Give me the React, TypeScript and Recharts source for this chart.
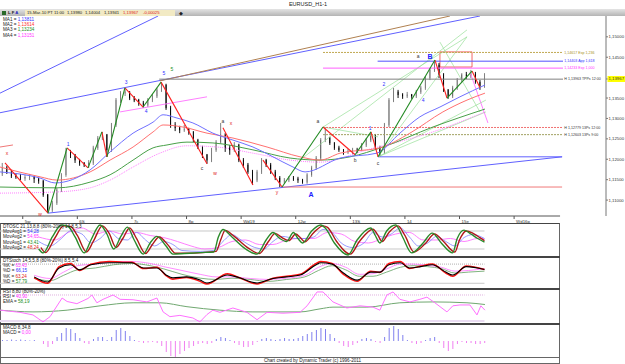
import React from "react"
import { ComposedChart, Bar, Line, XAxis, YAxis, ReferenceLine, ReferenceArea, Scatter, Cell } from "recharts"

const FONT = "'Liberation Sans', Arial, sans-serif"

// EURUSD, candles of 2 hours: [open, high, low, close]
const candles = [
  [1.1164, 1.1191, 1.1159, 1.1179], [1.1179, 1.1184, 1.1164, 1.1169], [1.1169, 1.1174, 1.1154, 1.1159],
  [1.1159, 1.1166, 1.1152, 1.1157], [1.1157, 1.1164, 1.1149, 1.1154], [1.1154, 1.1162, 1.1147, 1.1155],
  [1.1155, 1.1164, 1.1149, 1.1157], [1.1157, 1.1159, 1.1142, 1.1152], [1.1152, 1.1154, 1.114, 1.1147],
  [1.1147, 1.1149, 1.1108, 1.1113], [1.1113, 1.1115, 1.1068, 1.1076], [1.1076, 1.1098, 1.1071, 1.1093],
  [1.1093, 1.113, 1.1088, 1.1125], [1.1125, 1.1166, 1.112, 1.1162], [1.1162, 1.1228, 1.1157, 1.1218],
  [1.1218, 1.1223, 1.1203, 1.1211], [1.1211, 1.1213, 1.1191, 1.1198], [1.1198, 1.1201, 1.1184, 1.1191],
  [1.1191, 1.1193, 1.1181, 1.1186], [1.1186, 1.1198, 1.1179, 1.1191], [1.1191, 1.1233, 1.1186, 1.1228],
  [1.1228, 1.1257, 1.1223, 1.1252], [1.1252, 1.1267, 1.1247, 1.126], [1.126, 1.1262, 1.1206, 1.1223],
  [1.1223, 1.1289, 1.1218, 1.1284], [1.1284, 1.135, 1.1279, 1.1345], [1.1345, 1.1367, 1.1338, 1.1362],
  [1.1362, 1.1375, 1.1355, 1.1365], [1.1365, 1.1367, 1.1345, 1.135], [1.135, 1.1355, 1.134, 1.1345],
  [1.1345, 1.1348, 1.1331, 1.1338], [1.1338, 1.1343, 1.1326, 1.1333], [1.1333, 1.135, 1.1328, 1.1345],
  [1.1345, 1.136, 1.134, 1.1355], [1.1355, 1.1375, 1.135, 1.137], [1.137, 1.1389, 1.1365, 1.1382],
  [1.1382, 1.1385, 1.1321, 1.1326], [1.1326, 1.1331, 1.1277, 1.1284], [1.1284, 1.1291, 1.1269, 1.1277],
  [1.1277, 1.1282, 1.1264, 1.1272], [1.1272, 1.1284, 1.1267, 1.1274], [1.1274, 1.1277, 1.126, 1.1267],
  [1.1267, 1.1269, 1.1242, 1.1247], [1.1247, 1.125, 1.1225, 1.123], [1.123, 1.1233, 1.1203, 1.1211],
  [1.1211, 1.1213, 1.1189, 1.1198], [1.1198, 1.1228, 1.1193, 1.1223], [1.1223, 1.1247, 1.1218, 1.1242],
  [1.1242, 1.1289, 1.1238, 1.126], [1.126, 1.1264, 1.1218, 1.1228], [1.1228, 1.1235, 1.1211, 1.1223],
  [1.1223, 1.1242, 1.1218, 1.1235], [1.1235, 1.1238, 1.1193, 1.1198], [1.1198, 1.1203, 1.1179, 1.1186],
  [1.1186, 1.1191, 1.1164, 1.1169], [1.1169, 1.1174, 1.1137, 1.1149], [1.1149, 1.1174, 1.1144, 1.1169],
  [1.1169, 1.1203, 1.1164, 1.1198], [1.1198, 1.1201, 1.1181, 1.1186], [1.1186, 1.1191, 1.1164, 1.1169],
  [1.1169, 1.1174, 1.1149, 1.1154], [1.1154, 1.1159, 1.1132, 1.1144], [1.1144, 1.1154, 1.114, 1.1149],
  [1.1149, 1.1159, 1.1144, 1.1154], [1.1154, 1.1159, 1.1147, 1.1152], [1.1152, 1.1157, 1.1142, 1.1149],
  [1.1149, 1.1152, 1.114, 1.1144], [1.1144, 1.1166, 1.114, 1.1162], [1.1162, 1.1184, 1.1157, 1.1179],
  [1.1179, 1.1208, 1.1174, 1.1203], [1.1203, 1.1252, 1.1198, 1.1247], [1.1247, 1.1279, 1.1242, 1.1252],
  [1.1252, 1.1255, 1.1235, 1.124], [1.124, 1.1242, 1.1223, 1.1228], [1.1228, 1.1233, 1.1218, 1.1223],
  [1.1223, 1.1225, 1.1211, 1.1218], [1.1218, 1.1225, 1.1213, 1.122], [1.122, 1.1228, 1.1213, 1.1223],
  [1.1223, 1.1228, 1.1215, 1.1221], [1.1221, 1.124, 1.122, 1.1235], [1.1235, 1.1252, 1.123, 1.1247],
  [1.1247, 1.1267, 1.1242, 1.126], [1.126, 1.1262, 1.1223, 1.1228], [1.1228, 1.1233, 1.1206, 1.1218],
  [1.1218, 1.1289, 1.1213, 1.1284], [1.1284, 1.135, 1.1279, 1.1345], [1.1345, 1.1375, 1.134, 1.1365],
  [1.1365, 1.137, 1.135, 1.1358], [1.1358, 1.1362, 1.1348, 1.1355], [1.1355, 1.1365, 1.135, 1.1358],
  [1.1358, 1.136, 1.1348, 1.1355], [1.1355, 1.137, 1.135, 1.1365], [1.1365, 1.138, 1.136, 1.1375],
  [1.1375, 1.1404, 1.137, 1.1399], [1.1399, 1.1424, 1.1394, 1.1419], [1.1419, 1.1443, 1.1414, 1.1431],
  [1.1431, 1.1436, 1.1399, 1.1407], [1.1407, 1.1411, 1.1365, 1.137], [1.137, 1.1372, 1.1348, 1.1355],
  [1.1355, 1.138, 1.135, 1.1375], [1.1375, 1.1399, 1.137, 1.1394], [1.1394, 1.1411, 1.1389, 1.1407],
  [1.1407, 1.1414, 1.1397, 1.1404], [1.1404, 1.1419, 1.1399, 1.1409], [1.1409, 1.1414, 1.1385, 1.1389],
  [1.1389, 1.1394, 1.137, 1.138], [1.138, 1.1411, 1.1375, 1.1397],
]

const LAST = 1.13967
const priceTicks = [1.11, 1.115, 1.12, 1.125, 1.13, 1.135, LAST, 1.145, 1.15]
const dayTicks = [10, 34, 58, 82, 106, 130, 154, 178, 202, 226]
const dayLabels = ["5w", "6S", "7c", "8p", "Wd19", "12w", "13S", "14", "15e", "Wd16p"]

// moving averages, [hour, price]
const ma1 = [[0, 1.1169], [17.6, 1.1154], [24.2, 1.1142], [39.6, 1.1174], [48.4, 1.1218], [58.5, 1.1264], [67.3, 1.1291], [71.7, 1.1309], [77.8, 1.1301], [84.8, 1.1289], [93.6, 1.1264], [102.4, 1.1247], [111.2, 1.123], [120, 1.1206], [128.8, 1.1181], [134.1, 1.1169], [149.5, 1.1203], [165.7, 1.1215], [175.8, 1.1264], [184.6, 1.1304], [193.4, 1.1328], [202.2, 1.1353], [213.2, 1.1382]]
const ma2 = [[0, 1.1181], [17.6, 1.1157], [25.1, 1.1149], [39.6, 1.1169], [48.4, 1.1198], [58.5, 1.123], [67.3, 1.1267], [71.7, 1.1284], [80.4, 1.1279], [91, 1.1264], [102.4, 1.1252], [117.4, 1.123], [131.9, 1.1206], [140.7, 1.1198], [149.5, 1.1215], [167, 1.1228], [180.2, 1.1264], [194.7, 1.1316], [205.3, 1.1345], [213.2, 1.1362]]
const ma3 = [[0, 1.1132], [25.1, 1.113], [39.6, 1.1144], [48.4, 1.1162], [58.5, 1.1198], [67.3, 1.1228], [73.4, 1.1235], [82.2, 1.1242], [93.6, 1.124], [111.2, 1.1223], [127.5, 1.1203], [140.7, 1.1198], [153.9, 1.1206], [168.4, 1.123], [190.3, 1.1279], [213.2, 1.1323]]
const ma4 = [[0, 1.1117], [25.1, 1.112], [39.6, 1.113], [48.4, 1.1149], [58.5, 1.1181], [70.3, 1.1215], [82.2, 1.1233], [95.4, 1.123], [111.2, 1.1215], [127.5, 1.1198], [140.7, 1.1193], [161.3, 1.1223], [190.3, 1.1267], [213.2, 1.1316]]

// drawn lines on the price chart: [hour1, price1, hour2, price2]
const blueLines = [[0, 1.1362, 69.5, 1.1551], [0, 1.1314, 211, 1.1551], [21.1, 1.1068, 247.1, 1.1206], [166.2, 1.1206, 247.1, 1.1206]]
const brownLines = [[70.3, 1.1392, 197.8, 1.1551]]
const salmonLines = [[124.4, 1.1132, 247.1, 1.1132], [0, 1.123, 5.7, 1.1235]]
const pinkLines = [[52.8, 1.1316, 91, 1.1353], [206.6, 1.1414, 214.5, 1.1289]]
const fanLines = [[142, 1.1279, 205.3, 1.15], [166.2, 1.1206, 205.3, 1.15], [166.2, 1.1206, 213.6, 1.1345], [166.2, 1.1206, 213.6, 1.1316], [193.4, 1.1487, 211, 1.1316], [142, 1.1279, 166.2, 1.1255], [131.9, 1.1198, 205.3, 1.1517]]
const redSwings = [[2.2, 1.1191, 21.1, 1.1068], [29.5, 1.1228, 38.7, 1.1179], [44.8, 1.1267, 47, 1.1206], [54.9, 1.1375, 62.9, 1.1328], [70.8, 1.1389, 91, 1.1189], [98, 1.1277, 111.2, 1.1137], [115.6, 1.1198, 124, 1.1132], [142, 1.1279, 156.1, 1.1211], [163.1, 1.1267, 166.2, 1.1206], [191.2, 1.1443, 196.5, 1.135], [207.5, 1.1416, 211, 1.1375]]
const greenSwings = [[21.1, 1.1068, 29.5, 1.1228], [38.7, 1.1179, 44.8, 1.1267], [47, 1.1206, 54.9, 1.1375], [62.9, 1.1328, 70.8, 1.1389], [124, 1.1132, 142, 1.1279], [156.1, 1.1211, 163.1, 1.1267], [166.2, 1.1206, 191.2, 1.1443], [196.5, 1.135, 207.5, 1.1416]]
const targetBox = [193.4, 207.5, 1.1426, 1.1463]

// price levels on the right: start hour, price, text
const levels = [
  { from: 142, p: 1.14617, text: "1,14617 Exp 1,236" },
  { from: 166, p: 1.14403, text: "1,14403 App 1,618" },
  { from: 142, p: 1.14233, text: "1,14233 Exp 1,000" },
  { from: 70, p: 1.13963, text: "H 1,13963 TPPs 12:00" },
  { from: 142, p: 1.12779, text: "H 1,12779 13Ps 12:00" },
  { from: 142, p: 1.12603, text: "H 1,12603 13Ps 9:00" },
]
const LEVEL_END = 247.5
const levelStyles = [
  { stroke: "#c0a850", dash: "2 1", color: "#a89020" },
  { stroke: "#5050ff", dash: undefined, color: "#3030ff" },
  { stroke: "#ff60ff", dash: undefined, color: "#ff30ff" },
  { stroke: "#808080", dash: undefined, color: "#333" },
  { stroke: "#f07070", dash: "2 1", color: "#333" },
  { stroke: "#a0a060", dash: "2 1", color: "#333" },
]

// wave counts
const waveTags = [
  { t: 3.1, p: 1.1215, text: "x", kind: "red" }, { t: 17.6, p: 1.1066, text: "w", kind: "red" },
  { t: 29.9, p: 1.1238, text: "1", kind: "blue" }, { t: 55.4, p: 1.1389, text: "3", kind: "blue" },
  { t: 64.2, p: 1.1318, text: "4", kind: "blue" }, { t: 72.1, p: 1.1411, text: "5", kind: "blue" },
  { t: 75.6, p: 1.1421, text: "5", kind: "green" }, { t: 88.8, p: 1.1179, text: "c", kind: "dark" },
  { t: 94.5, p: 1.1166, text: "w", kind: "red" }, { t: 98, p: 1.1294, text: "a", kind: "dark" },
  { t: 101.5, p: 1.1289, text: "x", kind: "red" }, { t: 121.8, p: 1.112, text: "y", kind: "red" },
  { t: 136.7, p: 1.1113, text: "A", kind: "big" }, { t: 139.8, p: 1.1294, text: "a", kind: "dark" },
  { t: 156.1, p: 1.1198, text: "b", kind: "dark" }, { t: 162.7, p: 1.1277, text: "1", kind: "blue" },
  { t: 166.2, p: 1.1191, text: "c", kind: "dark" }, { t: 168.8, p: 1.1385, text: "2", kind: "blue" },
  { t: 186, p: 1.1345, text: "4", kind: "blue" }, { t: 183.8, p: 1.1453, text: "a", kind: "dark" },
  { t: 189, p: 1.1451, text: "B", kind: "big" },
]
const tagStyles: Record<string, { fill: string; size: number; weight: number }> = {
  red: { fill: "#e02020", size: 5, weight: 400 },
  blue: { fill: "#3030ff", size: 5, weight: 400 },
  green: { fill: "#209020", size: 5, weight: 400 },
  dark: { fill: "#333", size: 5, weight: 400 },
  big: { fill: "#2020ff", size: 7, weight: 700 },
}

// DTOSC, [hour, value]
const oscFast1 = [[17, 20], [19, 7], [23, 60], [27, 100], [30, 95], [33, 60], [37, 7], [40, 50], [44, 100], [47, 70], [50, 20], [53, 60], [56, 93], [59, 50], [63, 3], [66, 40], [69, 62], [73, 30], [76, 3], [81, 5], [88, 8], [94, 10], [96, 60], [98, 85], [102, 60], [108, 20], [113, 3], [117, 50], [120, 75], [123, 55], [126, 45], [129, 75], [131, 55], [133, 40], [137, 80], [141, 100], [143, 90], [147, 40], [153, 0], [157, 50], [163, 90], [165, 65], [167, 40], [170, 80], [174, 100], [177, 60], [181, 7], [186, 40], [190, 73], [194, 40], [199, 7], [201, 55], [204, 83], [207, 70], [210, 55], [213, 43]]
const oscFast2 = [[18, 25], [20, 8], [24, 55], [28, 97], [31, 95], [34, 65], [38, 10], [41, 45], [45, 97], [48, 72], [51, 25], [54, 55], [57, 90], [60, 55], [64, 5], [67, 35], [70, 60], [74, 32], [77, 6], [82, 6], [89, 8], [95, 12], [97, 50], [99, 82], [103, 62], [109, 24], [114, 5], [118, 45], [121, 72], [124, 58], [127, 48], [130, 70], [132, 58], [134, 44], [138, 75], [142, 97], [144, 92], [148, 45], [154, 3], [158, 45], [164, 86], [166, 68], [168, 45], [171, 75], [175, 97], [178, 65], [182, 10], [187, 38], [191, 70], [195, 45], [200, 10], [202, 50], [205, 80], [208, 72], [211, 58], [213, 48]]
const oscSlow1 = [[17, 45], [22, 30], [27, 55], [31, 80], [36, 70], [40, 40], [44, 55], [48, 80], [52, 55], [56, 50], [60, 75], [64, 50], [68, 30], [72, 45], [76, 35], [80, 15], [88, 12], [94, 15], [98, 45], [102, 68], [106, 50], [112, 25], [116, 20], [120, 45], [124, 62], [130, 55], [134, 55], [138, 60], [142, 85], [146, 75], [150, 40], [155, 25], [160, 40], [164, 75], [168, 60], [172, 70], [176, 90], [180, 60], [184, 30], [188, 40], [192, 62], [196, 45], [200, 30], [204, 58], [208, 68], [213, 55]]
const oscSlow2 = [[17, 60], [24, 50], [30, 75], [36, 90], [42, 70], [48, 80], [54, 70], [60, 75], [66, 65], [72, 58], [78, 45], [84, 30], [90, 20], [96, 25], [102, 45], [108, 50], [114, 35], [120, 35], [126, 50], [132, 55], [138, 55], [144, 75], [150, 70], [156, 45], [162, 40], [168, 55], [174, 70], [180, 75], [186, 50], [192, 50], [198, 55], [204, 45], [210, 55], [213, 54]]

// DTStoch
const stochK1 = [[15, 40], [21, 24], [26, 68], [31, 78], [35, 62], [40, 78], [48, 84], [54, 84], [58, 84], [63, 68], [69, 68], [73, 46], [76, 37], [82, 40], [88, 30], [91, 21], [100, 46], [105, 38], [113, 21], [120, 35], [126, 40], [132, 46], [139, 78], [141, 84], [146, 80], [151, 52], [157, 30], [163, 55], [167, 55], [171, 78], [176, 84], [180, 68], [185, 72], [190, 78], [196, 55], [199, 46], [205, 72], [213, 63]]
const stochK2 = [[15, 38], [21, 20], [26, 72], [31, 82], [35, 60], [40, 80], [48, 88], [54, 86], [58, 86], [63, 66], [69, 70], [73, 44], [76, 33], [82, 38], [88, 26], [91, 18], [100, 50], [105, 38], [113, 18], [120, 36], [126, 42], [132, 48], [139, 82], [141, 88], [146, 82], [151, 48], [157, 26], [163, 58], [167, 54], [171, 82], [176, 88], [180, 66], [185, 74], [190, 80], [196, 52], [199, 42], [205, 74], [213, 63]]
const stochD1 = [[15, 45], [22, 35], [28, 55], [34, 75], [42, 80], [50, 88], [58, 88], [66, 82], [72, 72], [80, 60], [88, 48], [95, 40], [102, 40], [110, 35], [118, 32], [126, 36], [134, 45], [140, 70], [146, 82], [152, 70], [158, 48], [164, 50], [170, 65], [176, 80], [182, 80], [188, 76], [194, 70], [200, 58], [206, 60], [213, 66]]
const stochD2 = [[15, 35], [22, 28], [28, 45], [34, 62], [42, 68], [50, 78], [58, 82], [66, 75], [72, 65], [80, 48], [88, 36], [95, 32], [102, 36], [110, 32], [118, 26], [126, 32], [134, 40], [140, 60], [146, 75], [152, 62], [158, 42], [164, 42], [170, 55], [176, 70], [182, 75], [188, 72], [194, 66], [200, 52], [206, 55], [213, 58]]

// RSI and its EMA
const rsi = [[0, 45], [8.8, 40], [14.5, 34], [18.9, 18], [22, 30], [27.3, 73], [29.5, 65], [33.8, 60], [38.7, 72], [40.4, 80], [42.6, 62], [45.3, 70], [49.7, 80], [52.8, 70], [58.5, 69], [64.6, 64], [69, 73], [71.7, 41], [74.7, 30], [79.1, 33], [84.8, 27], [87.9, 18], [91, 35], [93.6, 45], [96.7, 40], [102.4, 50], [108.6, 40], [113, 23], [117.4, 40], [124.4, 38], [131.9, 40], [135, 55], [139.4, 87], [142, 87], [146.4, 64], [152.5, 50], [158.3, 55], [164, 52], [167, 45], [170.1, 80], [172.8, 87], [175.8, 70], [180.2, 64], [184.6, 70], [187.7, 75], [191.2, 62], [196.5, 41], [199.1, 55], [202.2, 57], [206.6, 57], [209.7, 34], [211.4, 55], [213.2, 45]]
const rsiEma = [[0, 45], [14.5, 41], [29.5, 45], [44, 55], [58.5, 62], [70.3, 62], [82.2, 53], [96.7, 45], [111.2, 41], [131.9, 41], [140.7, 48], [146.4, 52], [161.3, 52], [175.8, 62], [190.3, 64], [205.3, 62], [213.2, 58]]

// MACD histogram, one value per candle
const macd = [
  0.0002, 0.0002, 0.0003, 0.0002, 0.0003, 0.0002, 0.0001, 0.0002, 0, -0.0006,
  -0.0012, -0.0006, 0.0008, 0.0016, 0.0026, 0.0024, 0.0016, 0.0006, -0.0004, -0.0006,
  0.0004, 0.0008, 0.0008, 0.0002, 0.0008, 0.0022, 0.0026, 0.002, 0.001, 0.0002,
  -0.0002, -0.0004, -0.0003, -0.0002, -0.0004, -0.001, -0.0022, -0.003, -0.0032, -0.0026,
  -0.002, -0.0014, -0.001, -0.0006, -0.0004, -0.0006, -0.0004, 0.0004, 0.0008, 0.0006,
  0.0002, -0.0004, -0.0008, -0.0012, -0.0012, -0.0008, -0.0002, 0.0004, 0.0006, 0.0004,
  0.0002, 0.0004, 0.0006, 0.0004, 0.0004, 0.0006, 0.001, 0.0014, 0.0018, 0.0022,
  0.0026, 0.0024, 0.0014, 0.0006, -0.0004, -0.001, -0.0012, -0.0008, -0.0004, 0.0004,
  0.0006, 0.0004, -0.0002, -0.0004, 0.0008, 0.0026, 0.003, 0.0024, 0.0012, 0.0002,
  -0.0004, -0.0006, -0.0004, 0.0002, 0.0006, 0.0008, -0.0004, -0.0014, -0.002, -0.0016,
  -0.0006, -0.0002, -0.0004, -0.0004, -0.0006, -0.0006, -0.0004,
]

const PRICE_DOMAIN = [1.1061, 1.1551]
const MAIN_T = [0, 266.4]
const SUB_T = [0, 246.2]

const candleData = candles.map(([o, h, l, c], i) => ({ t: 2 * i + 1, o, h, l, c, range: [l, h] }))
const macdData = macd.map((v, i) => ({ t: 2 * i + 1, v }))
const tp = (arr: number[][]) => arr.map(([t, p]) => ({ t, p }))
const tv = (arr: number[][]) => arr.map(([t, v]) => ({ t, v }))
const fmt = (v: number) => v.toFixed(5).replace(".", ",")

function Candle(props: any) {
  const { x, y, width, height, payload } = props
  if (!payload || height == null) return null
  const { o, h, l, c } = payload
  const k = h > l ? height / (h - l) : 0
  const yo = y + (h - o) * k
  const yc = y + (h - c) * k
  const up = c >= o
  const cx = x + width / 2
  return (
    <g>
      <line x1={cx} x2={cx} y1={y} y2={y + height} stroke={up ? "#808080" : "#111"} strokeWidth={1} />
      <rect x={x} y={Math.min(yo, yc)} width={width} height={Math.max(1, Math.abs(yc - yo))}
        fill={up ? "#d4d4d4" : "#000"} stroke={up ? "#707070" : "#000"} strokeWidth={0.6} />
    </g>
  )
}

function PriceTick(props: any) {
  const { x, y, payload } = props
  const cur = payload.value === LAST
  return (
    <g>
      {cur && <rect x={x - 1} y={y - 3} width={19} height={6} fill="#ffff00" />}
      <text x={x} y={y} dy={1.5} fontSize={4.3} fill="#333" fontFamily={FONT}>{fmt(payload.value)}</text>
    </g>
  )
}

function DayTick(props: any) {
  const { x, y, index } = props
  return (
    <g>
      <line x1={x} x2={x} y1={y} y2={y + 3} stroke="#555" />
      <text x={x + 2} y={y + 7} fontSize={4.4} fill="#333" fontFamily={FONT}>{dayLabels[index]}</text>
    </g>
  )
}

function WaveTag(props: any) {
  const { cx, cy, payload } = props
  const s = tagStyles[payload.kind]
  return (
    <text x={cx} y={cy} dy={s.size * 0.35} textAnchor="middle" fontSize={s.size} fontWeight={s.weight} fill={s.fill} fontFamily={FONT}>
      {payload.text}
    </text>
  )
}

function LevelTag(props: any) {
  const { cx, cy, payload } = props
  return (
    <text x={cx} y={cy} dy={1.3} fontSize={3.6} fill={levelStyles[payload.i].color} fontFamily={FONT}>{payload.text}</text>
  )
}

function segs(list: number[][], stroke: string, width = 1, dash?: string) {
  return list.map(([t1, p1, t2, p2], i) => (
    <ReferenceLine key={stroke + i} segment={[{ x: t1, y: p1 }, { x: t2, y: p2 }]} stroke={stroke}
      strokeWidth={width} strokeDasharray={dash} ifOverflow="visible" />
  ))
}

function levelY(v: number, from: number, to: number, stroke: string, dash?: string, width = 1) {
  return <ReferenceLine segment={[{ x: from, y: v }, { x: to, y: v }]} stroke={stroke} strokeWidth={width} strokeDasharray={dash} ifOverflow="visible" />
}

const M0 = { top: 0, right: 0, bottom: 0, left: 0 }
const txt: React.CSSProperties = { position: "absolute", fontFamily: FONT, fontSize: 4.6, lineHeight: "5.2px", color: "#222", whiteSpace: "nowrap" }

function Legend({ top, title, rows }: { top: number; title: string; rows: [string, string, string][] }) {
  return (
    <div style={{ ...txt, left: 3, top }}>
      <div>{title}</div>
      {rows.map(([k, v, col]) => (
        <div key={k + v}>{k} = <span style={{ color: col }}>{v}</span></div>
      ))}
    </div>
  )
}

function SubX() {
  return <XAxis type="number" dataKey="t" domain={SUB_T} allowDataOverflow hide />
}

export default function App() {
  const levelTags = levels.map((l, i) => ({ t: LEVEL_END + 0.6, p: l.p, text: l.text, i }))
  const bar: React.CSSProperties = { ...txt, top: 10, fontSize: 4.2, lineHeight: "6px" }
  return (
    <div style={{ position: "absolute", left: 0, top: 0, width: 625, height: 364, background: "#fff", overflow: "hidden" }}>
      {/* header */}
      <div style={{ ...txt, left: 0, width: 616, top: 2, textAlign: "center", fontSize: 5.5 }}>EURUSD_H1-1</div>
      <div style={{ position: "absolute", left: 0, top: 9, width: 625, height: 7, background: "linear-gradient(#e4e4e4, #b4b4b4)" }} />
      <div style={{ position: "absolute", left: 2, top: 11, width: 4, height: 4, background: "#2a6a2a" }} />
      <div style={{ ...bar, left: 8, fontWeight: 700 }}>L F <span style={{ color: "#2020c0" }}>A</span></div>
      <div style={{ position: "absolute", left: 25, top: 10, width: 150, height: 6, background: "#f2eac4" }} />
      <div style={{ ...bar, left: 27 }}>15-Mar-10 PT 11:00</div>
      <div style={{ ...bar, left: 67 }}>1,13980</div>
      <div style={{ ...bar, left: 85 }}>1,14004</div>
      <div style={{ ...bar, left: 104 }}>1,13941</div>
      <div style={{ ...bar, left: 123, color: "#e02020" }}>1,13967</div>
      <div style={{ ...bar, left: 143, color: "#e02020" }}>-0,00025</div>
      <div style={{ ...bar, left: 179, fontSize: 5 }}>◆</div>

      {/* price chart */}
      <div style={{ position: "absolute", left: 0, top: 16 }}>
        <ComposedChart width={625} height={209} data={candleData} margin={M0}>
          <XAxis type="number" dataKey="t" domain={MAIN_T} allowDataOverflow ticks={dayTicks} interval={0}
            axisLine={false} tickLine={false} tickSize={0} tickMargin={0} height={9} tick={<DayTick />} />
          <YAxis orientation="right" domain={PRICE_DOMAIN} allowDataOverflow width={19} ticks={priceTicks} interval={0}
            tickSize={2} tickMargin={0.5} tick={<PriceTick />} axisLine={{ stroke: "#777" }} tickLine={{ stroke: "#777" }} />
          {levelY(PRICE_DOMAIN[0], 0, 246.2, "#555")}
          {segs(blueLines, "#6060ff")}
          {segs(brownLines, "#b08050")}
          {segs(salmonLines, "#f07878")}
          {segs(pinkLines, "#ff80ff")}
          {segs(fanLines, "#98e098", 0.7)}
          {levels.map((l, i) => (
            <ReferenceLine key={"lv" + i} segment={[{ x: l.from, y: l.p }, { x: LEVEL_END, y: l.p }]}
              stroke={levelStyles[i].stroke} strokeDasharray={levelStyles[i].dash} ifOverflow="visible" />
          ))}
          <ReferenceArea x1={targetBox[0]} x2={targetBox[1]} y1={targetBox[2]} y2={targetBox[3]} fill="none" fillOpacity={0}
            stroke="#f04040" strokeWidth={0.8} ifOverflow="visible" />
          <Line data={tp(ma4)} dataKey="p" type="monotone" stroke="#ff80ff" strokeDasharray="1 1" dot={false} isAnimationActive={false} />
          <Line data={tp(ma3)} dataKey="p" type="monotone" stroke="#48a048" dot={false} isAnimationActive={false} />
          <Line data={tp(ma2)} dataKey="p" type="monotone" stroke="#ff7070" dot={false} isAnimationActive={false} />
          <Line data={tp(ma1)} dataKey="p" type="monotone" stroke="#7070ff" dot={false} isAnimationActive={false} />
          <Bar dataKey="range" barSize={3} shape={(p: any) => <Candle {...p} />} isAnimationActive={false} />
          {segs(redSwings, "#ff2020", 1.1)}
          {segs(greenSwings, "#208a20", 1.1)}
          <Scatter data={waveTags} dataKey="p" shape={(p: any) => <WaveTag {...p} />} isAnimationActive={false} />
          <Scatter data={levelTags} dataKey="p" shape={(p: any) => <LevelTag {...p} />} isAnimationActive={false} />
        </ComposedChart>
      </div>
      <div style={{ ...txt, left: 3, top: 17 }}>
        <div>MA1 = <span style={{ color: "#3030ff" }}>1,13811</span></div>
        <div>MA2 = <span style={{ color: "#ff3030" }}>1,13614</span></div>
        <div>MA3 = <span style={{ color: "#209020" }}>1,13234</span></div>
        <div>MA4 = <span style={{ color: "#ff30ff" }}>1,13151</span></div>
      </div>

      {/* indicator panels frame */}
      <div style={{ position: "absolute", left: 0, top: 223, width: 560, height: 141, border: "1px solid #666", borderTopColor: "#444", boxSizing: "border-box" }} />
      <div style={{ position: "absolute", left: 0, top: 256, width: 560, height: 2, background: "#444" }} />
      <div style={{ position: "absolute", left: 0, top: 288, width: 560, height: 2, background: "#444" }} />
      <div style={{ position: "absolute", left: 0, top: 323, width: 560, height: 2, background: "#444" }} />
      <div style={{ position: "absolute", left: 0, top: 357, width: 560, height: 1, background: "#666" }} />

      {/* DTOSC */}
      <div style={{ position: "absolute", left: 0, top: 224 }}>
        <ComposedChart width={560} height={33} margin={M0}>
          <SubX />
          <YAxis domain={[-6.7, 103.3]} allowDataOverflow hide width={0} />
          {levelY(80, 0, 213, "#c8c8c8")}
          {levelY(20, 0, 213, "#c8c8c8")}
          <Line data={tv(oscSlow2)} dataKey="v" type="monotone" stroke="#ff80ff" dot={false} isAnimationActive={false} />
          <Line data={tv(oscSlow1)} dataKey="v" type="monotone" stroke="#8080ff" strokeWidth={0.8} dot={false} isAnimationActive={false} />
          <Line data={tv(oscFast2)} dataKey="v" type="monotone" stroke="#b01818" strokeWidth={1.4} dot={false} isAnimationActive={false} />
          <Line data={tv(oscFast1)} dataKey="v" type="monotone" stroke="#2a8a2a" strokeWidth={1.4} dot={false} isAnimationActive={false} />
        </ComposedChart>
      </div>
      <Legend top={224} title="DTOSC 21,13,8,8 (80%-20%) 14,8,5,3"
        rows={[["MovAvg1", "54,28", "#3030ff"], ["MovAvg2", "54,65", "#ff30ff"], ["MovAvg1", "43,41", "#209020"], ["MovAvg2", "48,24", "#e02020"]]} />

      {/* DTStoch */}
      <div style={{ position: "absolute", left: 0, top: 257 }}>
        <ComposedChart width={560} height={33} margin={M0}>
          <SubX />
          <YAxis domain={[-1, 102.2]} allowDataOverflow hide width={0} />
          {levelY(80, 0, 213, "#b0b0b0", "1 1")}
          {levelY(20, 0, 213, "#c8c8c8")}
          <Line data={tv(stochD2)} dataKey="v" type="monotone" stroke="#60a060" strokeWidth={0.8} dot={false} isAnimationActive={false} />
          <Line data={tv(stochD1)} dataKey="v" type="monotone" stroke="#ff70ff" strokeWidth={0.8} dot={false} isAnimationActive={false} />
          <Line data={tv(stochK2)} dataKey="v" type="monotone" stroke="#ff1010" strokeWidth={1.5} dot={false} isAnimationActive={false} />
          <Line data={tv(stochK1)} dataKey="v" type="monotone" stroke="#000" strokeWidth={1.1} dot={false} isAnimationActive={false} />
        </ComposedChart>
      </div>
      <Legend top={258} title="DTStoch 14,5,5,8 (80%-20%) 8,5,5,4"
        rows={[["%K", "63,43", "#ff30ff"], ["%D", "66,15", "#3030ff"], ["%K", "63,24", "#e02020"], ["%D", "57,79", "#209020"]]} />

      {/* RSI */}
      <div style={{ position: "absolute", left: 0, top: 289 }}>
        <ComposedChart width={560} height={35} margin={M0}>
          <SubX />
          <YAxis domain={[13.1, 93.8]} allowDataOverflow hide width={0} />
          {levelY(80, 0, 213, "#e0b0e0", "1 1")}
          {levelY(20, 0, 213, "#eadcf2", undefined, 2)}
          <Line data={tv(rsiEma)} dataKey="v" type="monotone" stroke="#70a870" dot={false} isAnimationActive={false} />
          <Line data={tv(rsi)} dataKey="v" type="linear" stroke="#ff70ff" dot={false} isAnimationActive={false} />
        </ComposedChart>
      </div>
      <Legend top={289} title="RSI 8,80 (80%-20%)" rows={[["RSI", "40,90", "#ff30ff"], ["EMA", "58,19", "#209020"]]} />

      {/* MACD */}
      <div style={{ position: "absolute", left: 0, top: 324 }}>
        <ComposedChart width={560} height={34} data={macdData} margin={M0}>
          <SubX />
          <YAxis domain={[-0.0034, 0.0034]} allowDataOverflow hide width={0} />
          <Bar dataKey="v" barSize={1} isAnimationActive={false}>
            {macdData.map((d, i) => <Cell key={i} fill={d.v >= 0 ? "#8080ee" : "#f080f0"} />)}
          </Bar>
        </ComposedChart>
      </div>
      <Legend top={325} title="MACD 8,34,8" rows={[["MACD", "0,00", "#ff30ff"]]} />

      <div style={{ ...txt, left: 0, width: 625, top: 358, textAlign: "center" }}>Chart created by Dynamic Trader (c) 1996-2011</div>
    </div>
  )
}
